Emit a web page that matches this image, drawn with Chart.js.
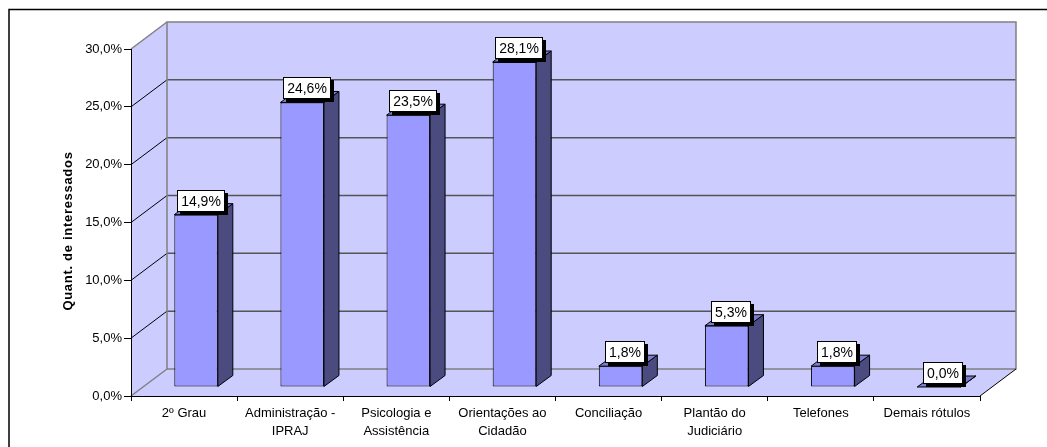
<!DOCTYPE html>
<html>
<head>
<meta charset="utf-8">
<script src="https://cdn.jsdelivr.net/npm/chart.js@4.4.0/dist/chart.umd.min.js"></script>
<style>
  html, body { margin: 0; padding: 0; background: #fff; }
  #wrap { width: 1047px; height: 447px; }
</style>
</head>
<body>
<div id="wrap"><canvas id="grafico" width="1047" height="447"></canvas></div>
<script>
// Dados do gráfico
const categorias = [
    '2º Grau',
    ['Administração -', 'IPRAJ'],
    ['Psicologia e', 'Assistência'],
    ['Orientações ao', 'Cidadão'],
    'Conciliação',
    ['Plantão do', 'Judiciário'],
    'Telefones',
    'Demais rótulos'
];
const percentuais = [14.9, 24.6, 23.5, 28.1, 1.8, 5.3, 1.8, 0.0];
const eixoY = { min: 0, max: 30, passo: 5 };
const tituloY = 'Quant. de interessados';

const FONTE = '"Liberation Sans", Arial, sans-serif';

// Deslocamentos da perspectiva (paredes, plano das barras e profundidade das barras)
const PAREDE = { dx: 36, dy: -27 };
const PLANO_BARRA = { dx: 12, dy: -9 };
const PROF_BARRA = { dx: 15, dy: -11 };

const formatarPct = v => v.toFixed(1).replace('.', ',') + '%';

function poligono(ctx, pts) {
    ctx.beginPath();
    ctx.moveTo(pts[0][0], pts[0][1]);
    for (let i = 1; i < pts.length; i++) ctx.lineTo(pts[i][0], pts[i][1]);
    ctx.closePath();
}

function linha(ctx, x1, y1, x2, y2) {
    ctx.beginPath();
    ctx.moveTo(x1, y1);
    ctx.lineTo(x2, y2);
    ctx.stroke();
}

const efeito3D = {
    id: 'efeito3D',
    beforeDraw(chart) {
        const { ctx, chartArea: a, scales: { y } } = chart;
        const L = a.left, R = a.right, T = a.top, B = a.bottom;
        const dx = PAREDE.dx, dy = PAREDE.dy;

        ctx.save();
        ctx.fillStyle = '#ccccff';
        // parede lateral, parede do fundo e piso
        poligono(ctx, [[L, T], [L + dx, T + dy], [L + dx, B + dy], [L, B]]);
        ctx.fill();
        ctx.fillRect(L + dx, T + dy, R - L, B - T);
        poligono(ctx, [[L, B], [R, B], [R + dx, B + dy], [L + dx, B + dy]]);
        ctx.fill();

        // linhas de grade
        y.ticks.forEach(t => {
            const py = y.getPixelForValue(t.value);
            if (t.value > eixoY.min && t.value < eixoY.max) {
                ctx.strokeStyle = '#555';
                ctx.lineWidth = 1.5;
                linha(ctx, L + dx, py + dy, R + dx, py + dy);
                ctx.strokeStyle = '#000';
                ctx.lineWidth = 1;
                linha(ctx, L, py, L + dx, py + dy);
            }
        });

        // contornos das paredes
        ctx.strokeStyle = '#808080';
        ctx.lineWidth = 1.5;
        poligono(ctx, [[L + dx, T + dy], [R + dx, T + dy], [R + dx, B + dy], [L + dx, B + dy]]);
        ctx.stroke();
        linha(ctx, L, T, L + dx, T + dy);
        linha(ctx, L, B, L + dx, B + dy);
        ctx.strokeStyle = '#000';
        ctx.lineWidth = 1;
        linha(ctx, R, B, R + dx, B + dy);
        ctx.restore();
    },
    beforeDatasetsDraw(chart) {
        const ctx = chart.ctx;
        ctx.save();
        ctx.translate(PLANO_BARRA.dx, PLANO_BARRA.dy);
        const { dx, dy } = PROF_BARRA;
        chart.getDatasetMeta(0).data.forEach(barra => {
            const { x, y, base, width } = barra.getProps(['x', 'y', 'base', 'width'], true);
            const x0 = x - width / 2, x1 = x + width / 2;
            ctx.strokeStyle = '#000';
            ctx.lineWidth = 1;
            // face lateral
            ctx.fillStyle = '#4b4b80';
            poligono(ctx, [[x1, y], [x1 + dx, y + dy], [x1 + dx, base + dy], [x1, base]]);
            ctx.fill();
            ctx.stroke();
            // topo
            ctx.fillStyle = '#7b7bd0';
            poligono(ctx, [[x0, y], [x1, y], [x1 + dx, y + dy], [x0 + dx, y + dy]]);
            ctx.fill();
            ctx.stroke();
        });
    },
    afterDatasetsDraw(chart) {
        const ctx = chart.ctx;
        ctx.restore();

        // rótulos de valor
        ctx.save();
        ctx.font = '14px ' + FONTE;
        ctx.textAlign = 'center';
        ctx.textBaseline = 'middle';
        const valores = chart.data.datasets[0].data;
        chart.getDatasetMeta(0).data.forEach((barra, i) => {
            const { x, y } = barra.getProps(['x', 'y'], true);
            const txt = formatarPct(valores[i]);
            const w = Math.round(ctx.measureText(txt).width + 8), h = 22;
            const cx = Math.round(x + PLANO_BARRA.dx + 4.5);
            const cy = Math.round(y + PLANO_BARRA.dy - 14);
            const bx = cx - w / 2, by = cy - h / 2;
            ctx.fillStyle = '#000';
            ctx.fillRect(bx + 3, by + 3, w, h);
            ctx.fillStyle = '#fff';
            ctx.fillRect(bx, by, w, h);
            ctx.strokeStyle = '#000';
            ctx.lineWidth = 1;
            ctx.strokeRect(bx + 0.5, by + 0.5, w - 1, h - 1);
            ctx.fillStyle = '#000';
            ctx.fillText(txt, cx, cy + 1);
        });
        ctx.restore();
    },
    afterDraw(chart) {
        const ctx = chart.ctx;
        ctx.save();
        // título do eixo Y
        ctx.translate(68, 231);
        ctx.rotate(-Math.PI / 2);
        ctx.font = 'bold 13px ' + FONTE;
        ctx.letterSpacing = '0.7px';
        ctx.fillStyle = '#000';
        ctx.textAlign = 'center';
        ctx.textBaseline = 'middle';
        ctx.fillText(tituloY, 0, 0);
        ctx.restore();

        // moldura
        ctx.save();
        ctx.strokeStyle = '#000';
        ctx.lineWidth = 1.5;
        ctx.beginPath();
        ctx.moveTo(9, 460);
        ctx.lineTo(9, 9.5);
        ctx.lineTo(1060, 9.5);
        ctx.stroke();
        ctx.restore();
    }
};

new Chart(document.getElementById('grafico'), {
    type: 'bar',
    data: {
        labels: categorias,
        datasets: [{
            data: percentuais,
            backgroundColor: '#9999ff',
            borderColor: '#000',
            borderWidth: 1,
            borderSkipped: false,
            barPercentage: 0.41,
            categoryPercentage: 1
        }]
    },
    options: {
        responsive: false,
        animation: false,
        devicePixelRatio: 1,
        layout: { padding: { left: 0, right: 67, top: 49, bottom: 0 } },
        plugins: {
            legend: { display: false },
            tooltip: { enabled: false }
        },
        scales: {
            x: {
                grid: { drawOnChartArea: false, tickLength: 5, color: '#000', offset: true },
                border: { color: '#000' },
                ticks: {
                    color: '#000',
                    font: { size: 13, family: FONTE, lineHeight: 1.35 },
                    padding: 4,
                    maxRotation: 0,
                    autoSkip: false
                },
                afterFit: s => { s.height = 51; }
            },
            y: {
                min: eixoY.min,
                max: eixoY.max,
                ticks: {
                    stepSize: eixoY.passo,
                    callback: v => formatarPct(v),
                    color: '#000',
                    font: { size: 13, family: FONTE },
                    padding: 2
                },
                grid: { drawOnChartArea: false, tickLength: 7, color: '#000' },
                border: { color: '#000' },
                afterFit: s => { s.width = 131; }
            }
        }
    },
    plugins: [efeito3D]
});
</script>
</body>
</html>
